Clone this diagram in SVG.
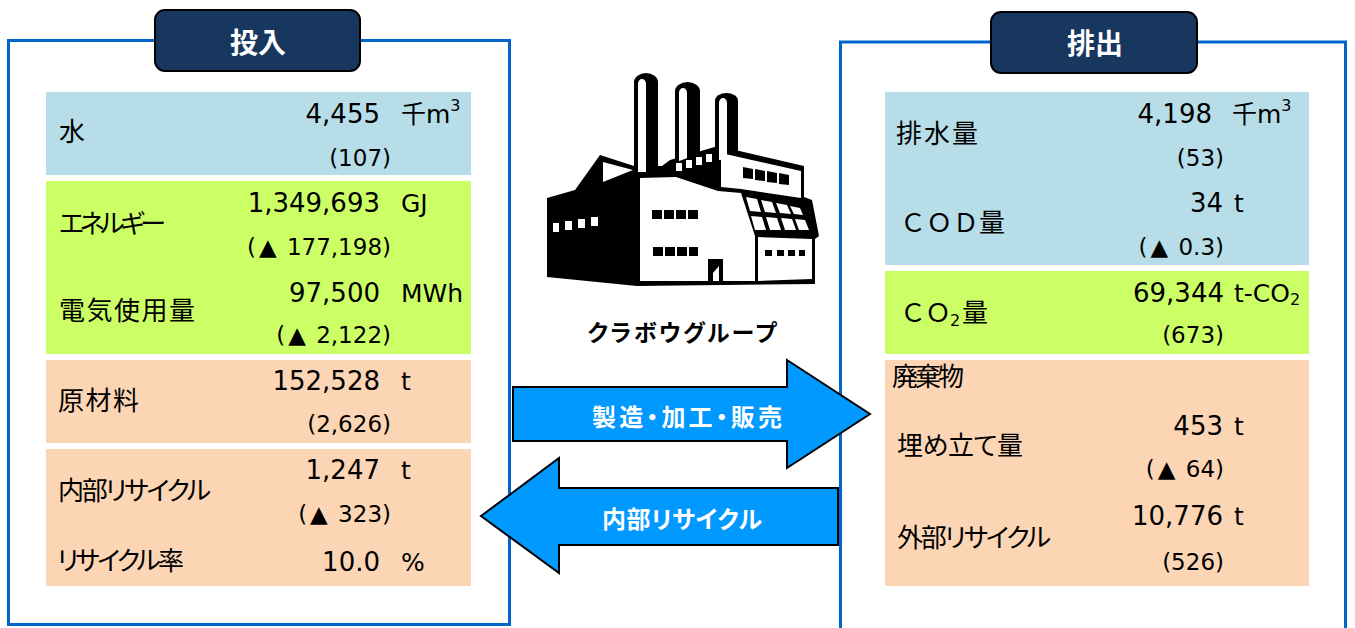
<svg xmlns="http://www.w3.org/2000/svg" width="1355" height="628" viewBox="0 0 1355 628">
  <style>
    .frame { fill: #ffffff; stroke: #0066cc; stroke-width: 3; }
    .title { fill: #17375e; stroke: #000000; stroke-width: 2; }
    .head { font-family: "Noto Sans CJK JP", sans-serif; font-weight: 700; font-size: 28px; fill: #ffffff; text-anchor: middle; }
    .water { fill: #b7dee8; }
    .energy { fill: #ccff66; }
    .waste { fill: #fcd5b5; }
    .lbl { font-family: "Noto Sans CJK JP", sans-serif; font-size: 26px; fill: #000000; font-feature-settings: "palt"; }
    .wide { font-feature-settings: normal; }
    .val { font-family: "DejaVu Sans", "Noto Sans CJK JP", sans-serif; font-size: 26px; fill: #000000; text-anchor: end; }
    .sub { font-family: "DejaVu Sans", "Noto Sans CJK JP", sans-serif; font-size: 23px; fill: #000000; text-anchor: end; }
    .unit { font-family: "DejaVu Sans", "Noto Sans CJK JP", sans-serif; font-size: 25px; fill: #000000; }
    .arrow { fill: #0099ff; stroke: #000000; stroke-width: 2; stroke-linejoin: miter; }
    .arrtxt { font-family: "Noto Sans CJK JP", sans-serif; font-weight: 700; font-size: 24px; fill: #ffffff; text-anchor: middle; font-feature-settings: "palt"; }
    .ink { fill: #000000; }
    .paper { fill: #ffffff; }
  </style>

  <!-- input panel -->
  <g id="input">
    <rect class="frame" x="8.5" y="40.5" width="501" height="584"/>
    <rect class="title" x="155" y="10" width="205" height="61" rx="10"/>
    <text class="head" x="258" y="53">投入</text>

    <g id="in-water">
      <rect class="water" x="46" y="92" width="425" height="83"/>
      <text class="lbl" x="59" y="141">水</text>
      <text class="val" x="380" y="123">4,455</text>
      <text class="unit" x="401" y="123">千m<tspan font-size="16" dy="-12">3</tspan></text>
      <text class="sub" x="391" y="166">(107)</text>
    </g>

    <g id="in-energy">
      <rect class="energy" x="46" y="181" width="425" height="173"/>
      <text class="lbl" x="59" y="233" textLength="107">エネルギー</text>
      <text class="val" x="380" y="212">1,349,693</text>
      <text class="unit" x="401" y="212">GJ</text>
      <text class="sub" x="391" y="255">(<tspan dx="3">▲</tspan><tspan dx="3"> 177,198)</tspan></text>
      <text class="lbl" x="59" y="320" textLength="136">電気使用量</text>
      <text class="val" x="380" y="302">97,500</text>
      <text class="unit" x="401" y="302">MWh</text>
      <text class="sub" x="391" y="343">(<tspan dx="3">▲</tspan><tspan dx="3"> 2,122)</tspan></text>
    </g>

    <g id="in-material">
      <rect class="waste" x="46" y="360" width="425" height="83"/>
      <text class="lbl" x="58" y="410" textLength="81">原材料</text>
      <text class="val" x="380" y="390">152,528</text>
      <text class="unit" x="401" y="390">t</text>
      <text class="sub" x="391" y="432">(2,626)</text>
    </g>

    <g id="in-recycle">
      <rect class="waste" x="46" y="449" width="425" height="137"/>
      <text class="lbl" x="58" y="500" textLength="153">内部リサイクル</text>
      <text class="val" x="380" y="479">1,247</text>
      <text class="unit" x="401" y="479">t</text>
      <text class="sub" x="391" y="522">(<tspan dx="3">▲</tspan><tspan dx="3"> 323)</tspan></text>
      <text class="lbl" x="57" y="570" textLength="127">リサイクル率</text>
      <text class="val" x="380" y="571">10.0</text>
      <text class="unit" x="401" y="571">%</text>
    </g>
  </g>

  <!-- output panel -->
  <g id="output">
    <rect class="frame" x="840.5" y="42" width="505" height="600"/>
    <rect class="title" x="991" y="12" width="206" height="61" rx="10"/>
    <text class="head" x="1095" y="54">排出</text>

    <g id="out-water">
      <rect class="water" x="885" y="92" width="424" height="173"/>
      <text class="lbl" x="896" y="143" textLength="82">排水量</text>
      <text class="val" x="1212" y="123">4,198</text>
      <text class="unit" x="1232" y="123">千m<tspan font-size="16" dy="-12">3</tspan></text>
      <text class="sub" x="1224" y="166">(53)</text>
      <text class="lbl wide" x="900" y="232" textLength="105">ＣＯＤ量</text>
      <text class="val" x="1223" y="212">34</text>
      <text class="unit" x="1234" y="212">t</text>
      <text class="sub" x="1224" y="255">(<tspan dx="3">▲</tspan><tspan dx="3"> 0.3)</tspan></text>
    </g>

    <g id="out-co2">
      <rect class="energy" x="885" y="271" width="424" height="83"/>
      <text class="lbl wide" x="900" y="322"><tspan>Ｃ</tspan><tspan x="925">Ｏ</tspan><tspan x="950" font-family="DejaVu Sans, sans-serif" font-size="16" dy="4">2</tspan><tspan x="962" dy="-4">量</tspan></text>
      <text class="val" x="1224" y="302">69,344</text>
      <text class="unit" x="1234" y="302">t-CO<tspan font-size="16" dy="3">2</tspan></text>
      <text class="sub" x="1224" y="343">(673)</text>
    </g>

    <g id="out-waste">
      <rect class="waste" x="885" y="360" width="424" height="226"/>
      <text class="lbl" x="892" y="386" font-size="22" textLength="72">廃棄物</text>
      <text class="lbl" x="897" y="455" textLength="126">埋め立て量</text>
      <text class="val" x="1223" y="435">453</text>
      <text class="unit" x="1234" y="435">t</text>
      <text class="sub" x="1224" y="477">(<tspan dx="3">▲</tspan><tspan dx="3"> 64)</tspan></text>
      <text class="lbl" x="897" y="547" textLength="154">外部リサイクル</text>
      <text class="val" x="1223" y="525">10,776</text>
      <text class="unit" x="1234" y="525">t</text>
      <text class="sub" x="1224" y="570">(526)</text>
    </g>
  </g>

  <!-- factory -->
  <g id="factory">
    <!-- building silhouette -->
    <polygon class="ink" points="547,198 575,190 600,155 634,166 662,166 670,160 718,146 804,166 804,197 812,200 819,236 815,239 815,284 637,286 547,277"/>
    <!-- chimneys -->
    <path class="ink" d="M634,172 V82 A12,9 0 0 1 658,82 V172 Z"/>
    <path class="paper" d="M638,172 V84 A4,5 0 0 1 646,84 V172 Z"/>
    <path class="ink" d="M675,172 V91 A12.5,9 0 0 1 700,91 V172 Z"/>
    <path class="paper" d="M679,172 V93 A4,5 0 0 1 687,93 V172 Z"/>
    <path class="ink" d="M715,160 V101 A11.5,8 0 0 1 738,101 V160 Z"/>
    <path class="paper" d="M719,160 V103 A4,5 0 0 1 727,103 V160 Z"/>
    <!-- roof band between stacks -->
    <polygon class="ink" points="668,165 718,147 720,190 668,180"/>
    <rect class="paper" x="676" y="163" width="6" height="8"/>
    <rect class="paper" x="686" y="160" width="6" height="8"/>
    <rect class="paper" x="696" y="157" width="6" height="8"/>
    <rect class="paper" x="706" y="154" width="6" height="8"/>
    <!-- left wing -->
    <polygon class="paper" points="603,162 633,170 603,182"/>
    <rect class="paper" x="553" y="223" width="6" height="9"/>
    <rect class="paper" x="565" y="221" width="7" height="9"/>
    <rect class="paper" x="578" y="219" width="7" height="9"/>
    <rect class="paper" x="591" y="217" width="7" height="9"/>
    <!-- main face -->
    <polygon class="paper" points="640,178 676,177 718,191 741,193 755,236 755,281 640,281"/>
    <rect class="ink" x="652" y="210" width="10" height="9"/>
    <rect class="ink" x="664" y="210" width="10" height="9"/>
    <rect class="ink" x="676" y="210" width="10" height="9"/>
    <rect class="ink" x="688" y="210" width="10" height="9"/>
    <rect class="ink" x="653" y="247" width="10" height="9"/>
    <rect class="ink" x="665" y="247" width="10" height="9"/>
    <rect class="ink" x="677" y="247" width="10" height="9"/>
    <rect class="ink" x="689" y="247" width="9" height="9"/>
    <polygon class="ink" points="708,259 723,259 723,283 719,283 719,266 713,273 713,283 708,283"/>
    <!-- upper right block -->
    <polygon class="paper" points="721,153 801,171 801,198 741,189 721,187"/>
    <polygon class="ink" points="743,167 753,169 753,179 743,178"/>
    <polygon class="ink" points="755,169 765,171 765,181 755,180"/>
    <polygon class="ink" points="767,171 777,173 777,183 767,182"/>
    <polygon class="ink" points="779,173 789,175 789,185 779,184"/>
    <!-- glazed facade -->
    <polygon class="paper" points="746,197 757,199 761,212 750,211"/>
    <polygon class="paper" points="761,200 772,202 776,213 765,212"/>
    <polygon class="paper" points="776,203 787,205 791,214 780,213"/>
    <polygon class="paper" points="790,206 800,208 803,215 794,214"/>
    <polygon class="paper" points="751,216 762,217 766,230 755,230"/>
    <polygon class="paper" points="766,217 777,218 781,230 770,230"/>
    <polygon class="paper" points="781,218 792,219 796,230 785,230"/>
    <polygon class="paper" points="795,219 805,220 809,230 799,230"/>
    <!-- lower right block -->
    <polygon class="paper" points="758,237 812,239 812,279 758,281"/>
    <rect class="ink" x="765" y="250" width="7" height="6"/>
    <rect class="ink" x="777" y="250" width="7" height="6"/>
    <rect class="ink" x="788" y="250" width="7" height="6"/>
    <rect class="ink" x="799" y="250" width="6" height="6"/>
    <text x="682" y="341" font-family="Noto Sans CJK JP, sans-serif" font-weight="700" font-size="23" text-anchor="middle" textLength="189" style="font-feature-settings:'palt'">クラボウグループ</text>
  </g>

  <!-- flow arrows -->
  <g id="connectors">
    <g id="flow-out">
      <polygon class="arrow" points="513,387 787,387 787,360 870,414 787,468 787,441 513,441"/>
      <text class="arrtxt" x="687" y="426" textLength="190">製造・加工・販売</text>
    </g>
    <g id="flow-back">
      <polygon class="arrow" points="838,488 559,488 559,458 481,516 559,573 559,545 838,545"/>
      <text class="arrtxt" x="682" y="528" textLength="160">内部リサイクル</text>
    </g>
  </g>
</svg>
